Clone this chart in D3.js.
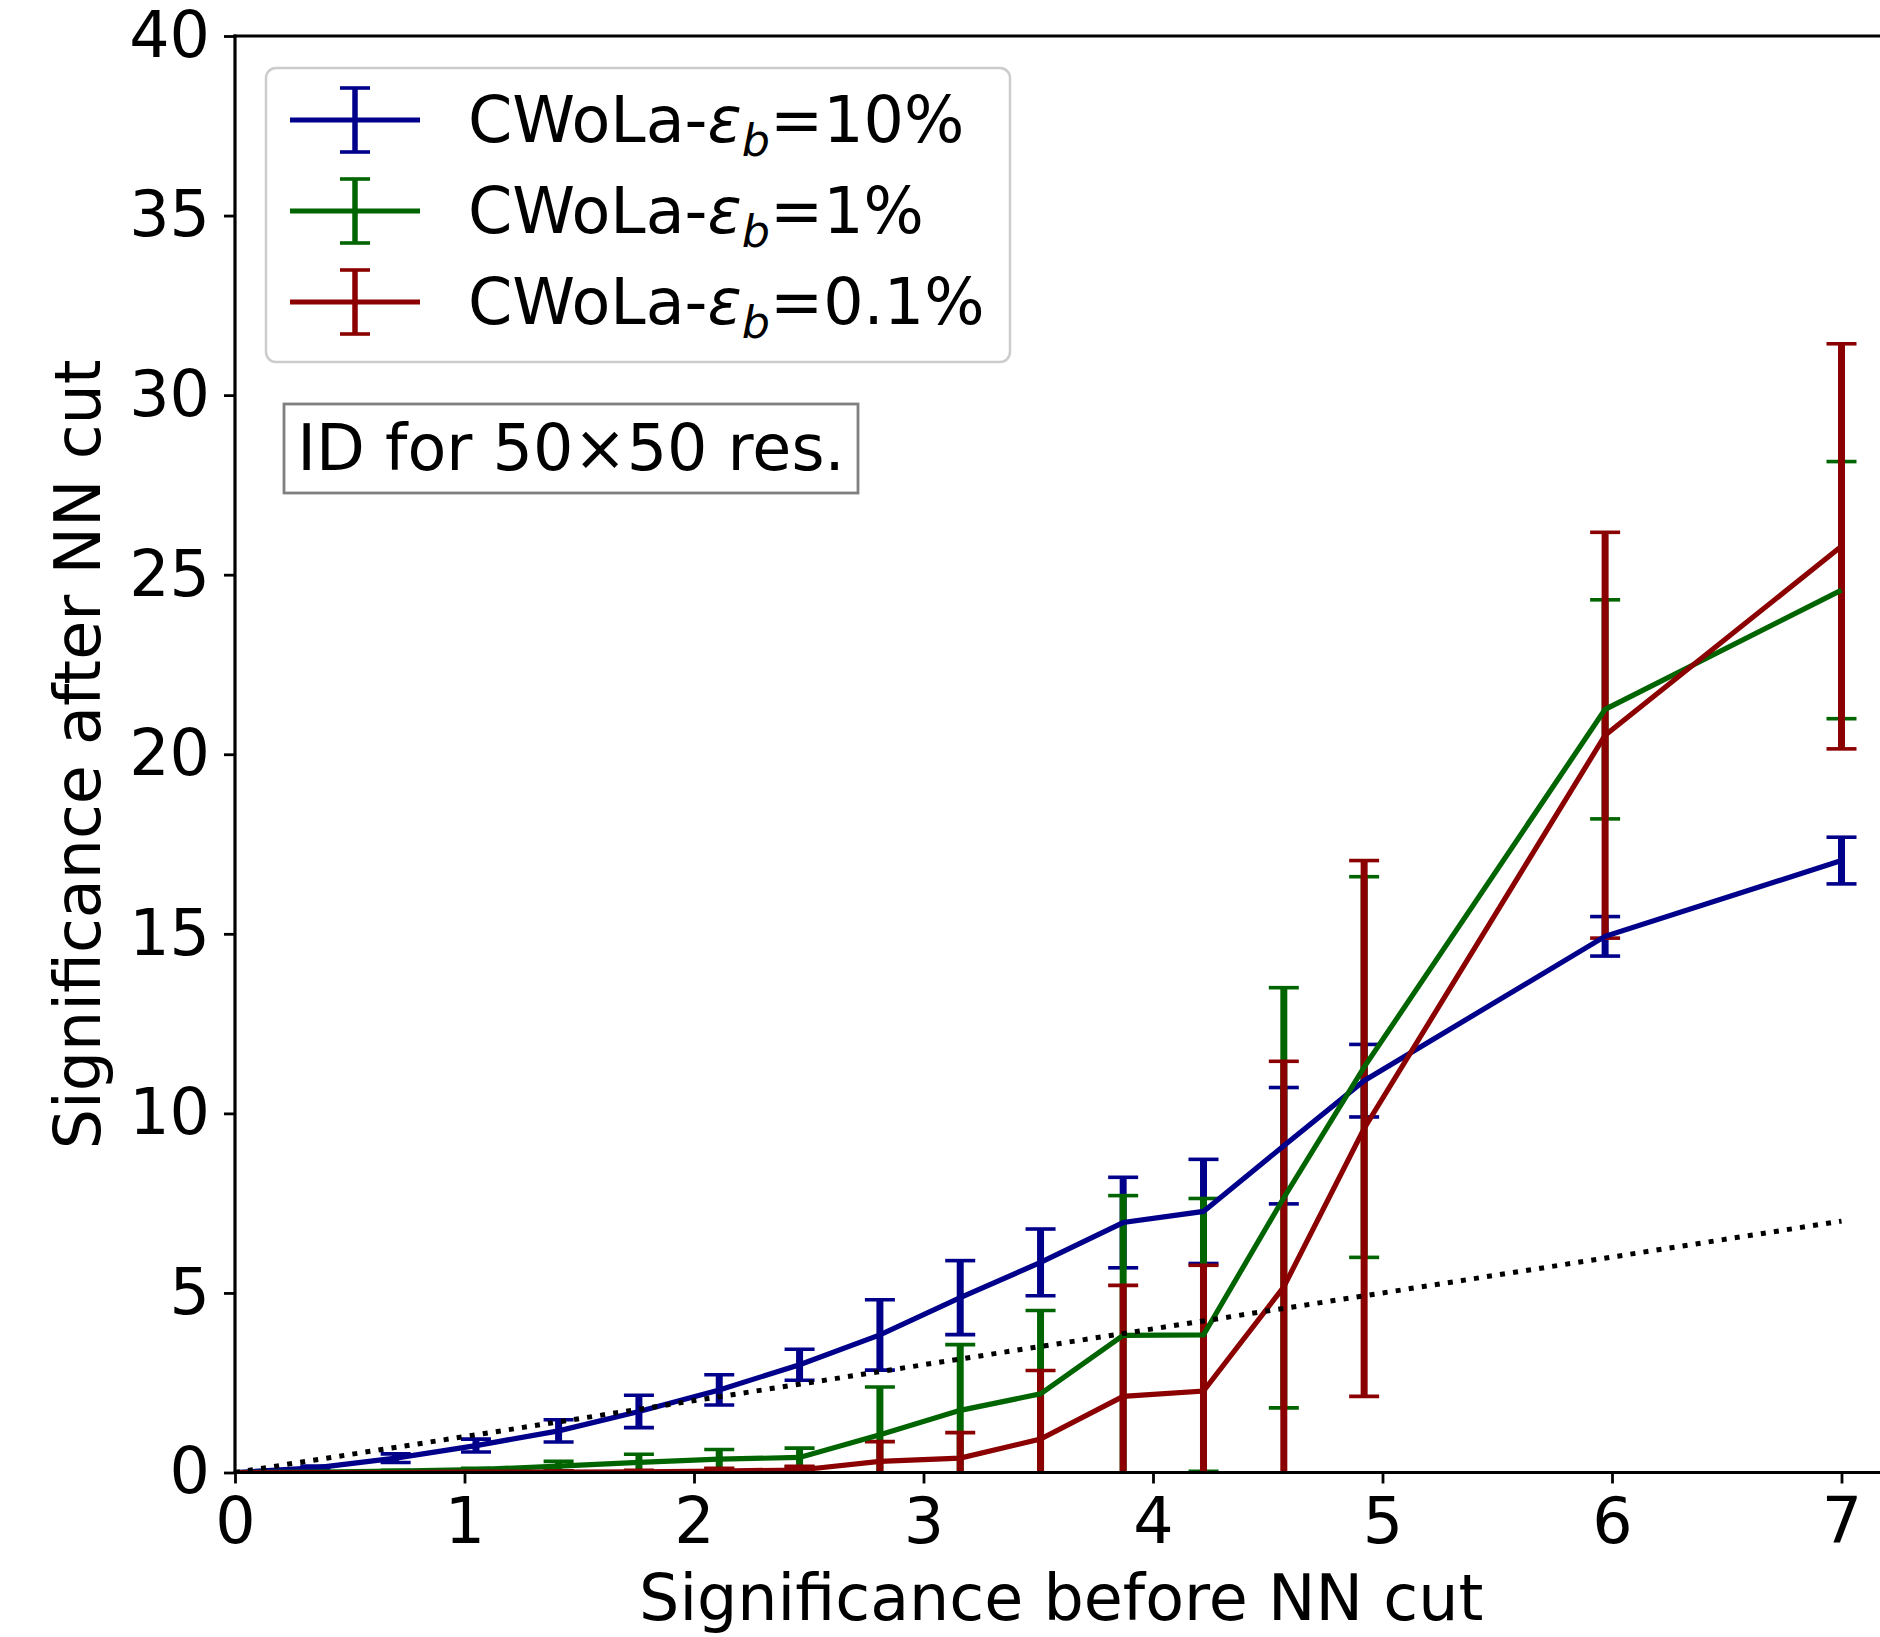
<!DOCTYPE html>
<html><head><meta charset="utf-8">
<script src="https://cdn.jsdelivr.net/npm/d3@7"></script>
<style>
body{margin:0;background:#fff}
svg{display:block}
text{font-family:"DejaVu Sans",sans-serif;fill:#000}
</style>
</head><body>
<svg id="chart" width="1880" height="1637"></svg>
<script>
// ---- data ----
const xValues = [0, 0.35, 0.70, 1.05, 1.41, 1.76, 2.11, 2.46, 2.81, 3.16, 3.51, 3.87, 4.22, 4.57, 4.92, 5.97, 7.00];

const blueValues = [0, 0.13, 0.40, 0.75, 1.16, 1.70, 2.30, 3.00, 3.83, 4.87, 5.85, 6.96, 7.27, 9.10, 10.91, 14.93, 17.04];
const blueErrors = [0, 0.05, 0.12, 0.18, 0.31, 0.45, 0.42, 0.43, 0.98, 1.03, 0.93, 1.26, 1.45, 1.62, 1.01, 0.55, 0.65];

const greenValues = [0, 0.01, 0.04, 0.08, 0.18, 0.28, 0.37, 0.42, 1.05, 1.73, 2.19, 3.82, 3.83, 7.65, 11.29, 21.25, 24.57];
const greenErrors = [0, 0.01, 0.02, 0.04, 0.13, 0.23, 0.27, 0.26, 1.33, 1.83, 2.32, 3.89, 3.80, 5.85, 5.30, 3.05, 3.58];

const redValues = [0, 0, 0, 0.01, 0.01, 0.02, 0.04, 0.07, 0.31, 0.40, 0.93, 2.12, 2.27, 5.17, 9.58, 20.53, 25.79];
const redErrors = [0, 0, 0, 0.02, 0.03, 0.04, 0.08, 0.10, 0.55, 0.71, 1.91, 3.09, 3.50, 6.28, 7.46, 5.65, 5.64];

const referenceX = [0, 7];
const referenceY = [0, 7];

const seriesNames = ["10%", "1%", "0.1%"];
const seriesColors = ["#00008b", "#006400", "#8b0000"];

const xTicks = [0, 1, 2, 3, 4, 5, 6, 7];
const yTicks = [0, 5, 10, 15, 20, 25, 30, 35, 40];

const xLabel = "Significance before NN cut";
const yLabel = "Significance after NN cut";
const boxText = "ID for 50\u00d750 res.";

// ---- layout ----
const FS = 63.5;
const LW = 5.2;
const plotL = 235, plotT = 36, plotB = 1472.5, plotR = 1887.4;

const svg = d3.select("#chart");
const x = d3.scaleLinear().domain([0, 7.2]).range([plotL, plotR]);
const y = d3.scaleLinear().domain([0, 40]).range([plotB, plotT]);

svg.append("defs").append("clipPath").attr("id", "plotclip")
  .append("rect").attr("x", plotL).attr("y", plotT).attr("width", plotR - plotL).attr("height", plotB - plotT);

const plot = svg.append("g").attr("clip-path", "url(#plotclip)");

const series = [
  {vals: blueValues, errs: blueErrors},
  {vals: greenValues, errs: greenErrors},
  {vals: redValues, errs: redErrors}
].map((s, i) => ({vals: s.vals, errs: s.errs, color: seriesColors[i], name: seriesNames[i],
  pts: xValues.map((xv, j) => ({x: xv, y: s.vals[j], e: s.errs[j]}))}));

const capHalf = 15;
// error bars (below lines)
series.forEach(s => {
  const g = plot.append("g");
  const pts = s.pts.filter(p => p.e > 0);
  g.selectAll("line.bar").data(pts).enter().append("line")
    .attr("x1", d => x(d.x)).attr("x2", d => x(d.x))
    .attr("y1", d => y(d.y - d.e)).attr("y2", d => y(d.y + d.e))
    .attr("stroke", s.color).attr("stroke-width", 7);
  ["lo", "hi"].forEach(k => {
    g.selectAll("line.cap" + k).data(pts).enter().append("line")
      .attr("x1", d => x(d.x) - capHalf).attr("x2", d => x(d.x) + capHalf)
      .attr("y1", d => y(k === "lo" ? d.y - d.e : d.y + d.e))
      .attr("y2", d => y(k === "lo" ? d.y - d.e : d.y + d.e))
      .attr("stroke", s.color).attr("stroke-width", 3.6);
  });
});

const line = d3.line().x(d => x(d.x)).y(d => y(d.y));
series.forEach(s => {
  plot.append("path").datum(s.pts).attr("d", line)
    .attr("fill", "none").attr("stroke", s.color).attr("stroke-width", LW)
    .attr("stroke-linejoin", "miter");
});

plot.append("path").datum(referenceX.map((xv, i) => ({x: xv, y: referenceY[i]})))
  .attr("d", line).attr("fill", "none").attr("stroke", "#000")
  .attr("stroke-width", 5).attr("stroke-dasharray", "5,8.2");

// ---- axes ----
const xAxis = svg.append("g").attr("transform", `translate(0,${plotB})`)
  .call(d3.axisBottom(x).tickValues(xTicks).tickFormat(d3.format("d")).tickSize(11).tickPadding(14));
const yAxis = svg.append("g").attr("transform", `translate(${plotL},0)`)
  .call(d3.axisLeft(y).tickValues(yTicks).tickFormat(d3.format("d")).tickSize(11).tickPadding(14));
[xAxis, yAxis].forEach(a => {
  a.select(".domain").remove();
  a.selectAll(".tick line").attr("stroke", "#000").attr("stroke-width", 2.8);
  a.selectAll(".tick text").attr("font-size", FS).attr("font-family", "DejaVu Sans").attr("fill", "#000");
});

// spines
svg.append("line").attr("x1", plotL).attr("x2", plotL).attr("y1", plotT).attr("y2", plotB)
  .attr("stroke", "#000").attr("stroke-width", 3.2).attr("stroke-linecap", "square");
svg.append("line").attr("x1", plotL).attr("x2", plotR).attr("y1", plotB).attr("y2", plotB)
  .attr("stroke", "#000").attr("stroke-width", 3.2).attr("stroke-linecap", "square");
svg.append("line").attr("x1", plotL).attr("x2", plotR).attr("y1", plotT).attr("y2", plotT)
  .attr("stroke", "#000").attr("stroke-width", 3.2).attr("stroke-linecap", "square");

// axis labels
svg.append("text").attr("x", (plotL + plotR) / 2).attr("y", 1620)
  .attr("text-anchor", "middle").attr("font-size", FS).text(xLabel);
svg.append("text").attr("transform", `translate(100,${(plotT + plotB) / 2}) rotate(-90)`)
  .attr("text-anchor", "middle").attr("font-size", FS).text(yLabel);

// ---- legend ----
const lg = svg.append("g");
lg.append("rect").attr("x", 266).attr("y", 68).attr("width", 744).attr("height", 294)
  .attr("rx", 10).attr("fill", "#fff").attr("fill-opacity", 0.8)
  .attr("stroke", "#cccccc").attr("stroke-width", 2.5);
const rowY = [120, 211, 302];
series.forEach((s, i) => {
  const cy = rowY[i];
  lg.append("line").attr("x1", 290).attr("x2", 420).attr("y1", cy).attr("y2", cy)
    .attr("stroke", s.color).attr("stroke-width", LW);
  lg.append("line").attr("x1", 355).attr("x2", 355).attr("y1", cy - 32).attr("y2", cy + 32)
    .attr("stroke", s.color).attr("stroke-width", 5.5);
  [cy - 32, cy + 32].forEach(yy => lg.append("line").attr("x1", 355 - 15).attr("x2", 355 + 15)
    .attr("y1", yy).attr("y2", yy).attr("stroke", s.color).attr("stroke-width", 3.6));
  const t = lg.append("text").attr("x", 468).attr("y", cy + 22).attr("font-size", FS);
  t.append("tspan").text("CWoLa-");
  t.append("tspan").attr("font-style", "italic").text("\u03b5");
  t.append("tspan").attr("font-style", "italic").attr("font-size", FS * 0.7).attr("dy", 14).text("b");
  t.append("tspan").attr("dy", -14).text("=" + s.name);
});

// ---- annotation box ----
svg.append("rect").attr("x", 284).attr("y", 404).attr("width", 574).attr("height", 89)
  .attr("fill", "#fff").attr("stroke", "#808080").attr("stroke-width", 2.8);
svg.append("text").attr("x", 571).attr("y", 470).attr("text-anchor", "middle")
  .attr("font-size", FS).text(boxText);
</script>
</body></html>
